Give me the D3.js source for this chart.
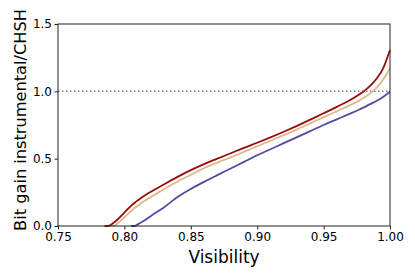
<!DOCTYPE html>
<html>
<head>
<meta charset="utf-8">
<script src="https://cdn.jsdelivr.net/npm/d3@7"></script>
<style>
    body { margin: 0; background: #fff; }
    text { font-family: "DejaVu Sans", sans-serif; fill: #000; }
</style>
</head>
<body>
<div id="chart"></div>
<script>
// visibility grid (x values)
var visibility = [0.785, 0.788, 0.79, 0.792, 0.795, 0.80, 0.805, 0.808, 0.81, 0.815, 0.82, 0.83, 0.84, 0.85, 0.86, 0.87, 0.88, 0.89, 0.90, 0.91, 0.92, 0.93, 0.94, 0.95, 0.96, 0.97, 0.975, 0.98, 0.985, 0.99, 0.995, 1.0];

// bit gain series (null = not drawn)
var redGain    = [0, 0, 0.01, 0.025, 0.05, 0.10, 0.15, 0.175, 0.19, 0.225, 0.255, 0.31, 0.365, 0.415, 0.46, 0.50, 0.54, 0.58, 0.618, 0.658, 0.70, 0.744, 0.79, 0.837, 0.885, 0.935, 0.965, 0.998, 1.04, 1.095, 1.175, 1.307];
var tanGain    = [null, null, 0, 0, 0.02, 0.065, 0.11, 0.135, 0.15, 0.185, 0.215, 0.275, 0.33, 0.38, 0.43, 0.47, 0.51, 0.55, 0.592, 0.633, 0.675, 0.718, 0.762, 0.808, 0.852, 0.898, 0.922, 0.95, 0.985, 1.028, 1.09, 1.17];
var purpleGain = [null, null, null, null, null, null, 0, 0, 0.012, 0.04, 0.075, 0.14, 0.215, 0.275, 0.328, 0.378, 0.427, 0.476, 0.525, 0.57, 0.615, 0.66, 0.705, 0.75, 0.792, 0.834, 0.856, 0.879, 0.905, 0.93, 0.96, 0.997];

var xTicks = [0.75, 0.80, 0.85, 0.90, 0.95, 1.00];
var yTicks = [0.0, 0.5, 1.0, 1.5];
var threshold = 1.0;

var svgWidth = 415;
var svgHeight = 277;

var margin = {
    top: 24,
    bottom: 51,
    right: 25,
    left: 58
};

var width = svgWidth - margin.left - margin.right;
var height = svgHeight - margin.top - margin.bottom;

var svg = d3.select("#chart")
    .append("svg")
    .attr("width", svgWidth)
    .attr("height", svgHeight);

var chartGroup = svg.append("g")
    .attr("transform", `translate(${margin.left}, ${margin.top})`);

// scales
var xLinearScale = d3.scaleLinear()
    .domain([0.75, 1.0])
    .range([0, width]);

var yLinearScale = d3.scaleLinear()
    .domain([0, 1.5])
    .range([height, 0]);

// dotted threshold line
chartGroup.append("line")
    .attr("x1", 0)
    .attr("x2", width)
    .attr("y1", yLinearScale(threshold))
    .attr("y2", yLinearScale(threshold))
    .attr("stroke", "#808080")
    .attr("stroke-width", 1.5)
    .attr("stroke-dasharray", "1.5,2.5");

// lines
var series = [
    { values: purpleGain, color: "#544a9e" },
    { values: tanGain, color: "#dcb88c" },
    { values: redGain, color: "#990a0a" }
];

var lineGen = d3.line()
    .defined(d => d[1] !== null)
    .x(d => xLinearScale(d[0]))
    .y(d => yLinearScale(d[1]))
    .curve(d3.curveMonotoneX);

series.forEach(function(s) {
    chartGroup.append("path")
        .datum(visibility.map((v, i) => [v, s.values[i]]))
        .attr("d", lineGen)
        .attr("fill", "none")
        .attr("stroke", s.color)
        .attr("stroke-width", 1.8);
});

// axes
var bottomAxis = d3.axisBottom(xLinearScale)
    .tickValues(xTicks)
    .tickFormat(d3.format(".2f"))
    .tickSizeOuter(0)
    .tickSize(3.5)
    .tickPadding(2.5);

var leftAxis = d3.axisLeft(yLinearScale)
    .tickValues(yTicks)
    .tickFormat(d3.format(".1f"))
    .tickSizeOuter(0)
    .tickSize(3.5)
    .tickPadding(2.5);

var xAxisG = chartGroup.append("g")
    .attr("transform", `translate(0, ${height})`)
    .call(bottomAxis);

var yAxisG = chartGroup.append("g")
    .call(leftAxis);

[xAxisG, yAxisG].forEach(function(g) {
    g.select(".domain").remove();
    g.selectAll("line").attr("stroke", "#222");
    g.selectAll("text")
        .style("font-family", "DejaVu Sans, sans-serif")
        .style("font-size", "12px")
        .attr("fill", "#000");
});

// frame
chartGroup.append("rect")
    .attr("x", 0)
    .attr("y", 0)
    .attr("width", width)
    .attr("height", height)
    .attr("fill", "none")
    .attr("stroke", "#222")
    .attr("stroke-width", 1);

// axis labels
chartGroup.append("text")
    .attr("x", width / 2)
    .attr("y", height + 37)
    .attr("text-anchor", "middle")
    .style("font-size", "17px")
    .text("Visibility");

chartGroup.append("text")
    .attr("transform", "rotate(-90)")
    .attr("x", -96)
    .attr("y", -32)
    .attr("text-anchor", "middle")
    .style("font-size", "16.2px")
    .text("Bit gain instrumental/CHSH");
</script>
</body>
</html>
